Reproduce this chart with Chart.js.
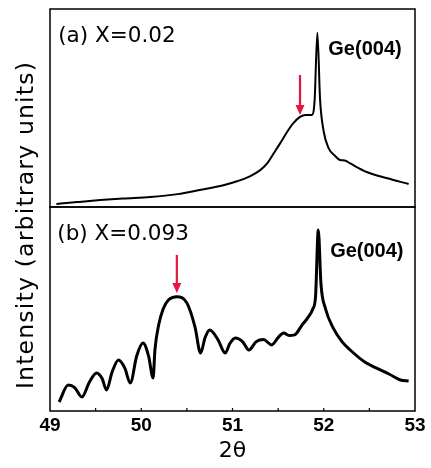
<!DOCTYPE html>
<html lang="en">
<head>
  <meta charset="UTF-8">
  <title>XRD Ge(004)</title>
  <script src="https://cdn.jsdelivr.net/npm/chart.js"></script>
  <style>
    html, body { margin: 0; padding: 0; background: #ffffff; }
    #wrap { width: 431px; height: 468px; position: relative; }
  </style>
</head>
<body>

<div id="wrap">
  <canvas id="xrd" width="431" height="468"></canvas>
</div>

<script>
// panel (a) X=0.02
const angleA = [49.07, 49.3, 49.55, 49.8, 50.1, 50.4, 50.64, 50.9, 51.05, 51.19, 51.3, 51.38, 51.45, 51.52, 51.6, 51.66, 51.74, 51.8, 51.87, 51.9, 51.93, 51.96, 52.0, 52.05, 52.12, 52.18, 52.23, 52.29, 52.47, 52.7, 52.93];
const intensityA = [1.5, 2.5, 3.5, 4.3, 5, 6.5, 8.6, 11, 13, 15.5, 18.5, 22, 27, 32, 38, 42, 45.5, 46.5, 46.5, 54, 88, 54, 38, 30, 26, 23.7, 23.5, 22, 17.7, 14.5, 11.6];

// panel (b) X=0.093
const angleB = [49.10, 49.20, 49.27, 49.35, 49.43, 49.51, 49.57, 49.62, 49.68, 49.75, 49.82, 49.88, 49.95, 50.02, 50.08, 50.13, 50.15, 50.19, 50.24, 50.30, 50.39, 50.50, 50.59, 50.65, 50.70, 50.75, 50.84, 50.92, 50.97, 51.03, 51.11, 51.18, 51.26, 51.34, 51.43, 51.50, 51.56, 51.62, 51.68, 51.76, 51.83, 51.88, 51.91, 51.94, 51.97, 52.02, 52.10, 52.20, 52.29, 52.45, 52.58, 52.72, 52.84, 52.93];
const intensityB = [4.4, 12.7, 11.5, 6.9, 14, 18.6, 16, 10.3, 19, 25, 21, 13.7, 27, 33.3, 27, 16.2, 30, 42, 50, 54.5, 56, 53, 41, 28.4, 36, 39.7, 35, 28.4, 33, 35.8, 34, 29.9, 34, 35, 32.4, 36, 38.2, 37, 37.3, 42, 46, 50, 56, 88.7, 62, 50, 41, 34, 29.9, 24, 21, 18, 15.2, 14.7];

const xTicks = [49, 50, 51, 52, 53];

function toPoints(xs, ys) {
  return xs.map((x, i) => ({ x: x, y: ys[i] }));
}

// frame, inward ticks, panel labels and arrows
const panelDecor = {
  id: 'panelDecor',
  afterDatasetsDraw(chart) {
    const ctx = chart.ctx;
    const area = chart.chartArea;
    const sx = chart.scales.x;
    const ya = chart.scales.yA;
    const yb = chart.scales.yB;

    ctx.save();
    ctx.strokeStyle = '#000';
    ctx.lineWidth = 1.5;
    ctx.strokeRect(area.left, ya.top, area.right - area.left, ya.bottom - ya.top);
    ctx.strokeRect(area.left, yb.top, area.right - area.left, yb.bottom - yb.top);

    // small ticks pointing inward on the bottom axis
    ctx.lineWidth = 1.2;
    for (let v = 49.5; v < 53; v += 0.5) {
      const px = sx.getPixelForValue(v);
      ctx.beginPath();
      ctx.moveTo(px, yb.bottom);
      ctx.lineTo(px, yb.bottom - 3);
      ctx.stroke();
    }

    // texts
    ctx.fillStyle = '#000';
    ctx.textBaseline = 'middle';
    ctx.textAlign = 'left';
    ctx.font = '21.5px "DejaVu Sans"';
    ctx.fillText('(a) X=0.02', sx.getPixelForValue(49.09), ya.getPixelForValue(86.4));
    ctx.fillText('(b) X=0.093', sx.getPixelForValue(49.08), yb.getPixelForValue(86.8));
    ctx.font = 'bold 20px "Liberation Sans"';
    ctx.fillText('Ge(004)', sx.getPixelForValue(52.05), ya.getPixelForValue(79.5));
    ctx.fillText('Ge(004)', sx.getPixelForValue(52.07), yb.getPixelForValue(78.4));

    // red arrows
    drawArrow(ctx, sx.getPixelForValue(51.74), ya.getPixelForValue(66.7), ya.getPixelForValue(46.5));
    drawArrow(ctx, sx.getPixelForValue(50.39), yb.getPixelForValue(76.5), yb.getPixelForValue(57.8));

    // y title across both panels
    ctx.translate(27, 225);
    ctx.rotate(-Math.PI / 2);
    ctx.textAlign = 'center';
    ctx.font = '23.5px "DejaVu Sans"';
    ctx.letterSpacing = '1.2px';
    ctx.fillText('Intensity (arbitrary units)', 0, 0);
    ctx.restore();
  }
};

function drawArrow(ctx, x, y0, y1) {
  ctx.save();
  ctx.strokeStyle = '#e3173e';
  ctx.fillStyle = '#e3173e';
  ctx.lineWidth = 2.2;
  ctx.beginPath();
  ctx.moveTo(x, y0);
  ctx.lineTo(x, y1 - 8);
  ctx.stroke();
  ctx.beginPath();
  ctx.moveTo(x - 4.5, y1 - 10);
  ctx.lineTo(x + 4.5, y1 - 10);
  ctx.lineTo(x, y1);
  ctx.closePath();
  ctx.fill();
  ctx.restore();
}

const hiddenY = {
  type: 'linear',
  min: 0,
  max: 100,
  stack: 'panels',
  position: 'left',
  ticks: { display: false },
  grid: { display: false },
  border: { display: false },
  afterFit(scale) { scale.width = 0; }
};

new Chart(document.getElementById('xrd'), {
  type: 'line',
  data: {
    datasets: [
      {
        label: 'X=0.02',
        data: toPoints(angleA, intensityA),
        yAxisID: 'yA',
        borderColor: '#000',
        borderWidth: 2,
        pointRadius: 0,
        cubicInterpolationMode: 'monotone'
      },
      {
        label: 'X=0.093',
        data: toPoints(angleB, intensityB),
        yAxisID: 'yB',
        borderColor: '#000',
        borderWidth: 3,
        pointRadius: 0,
        cubicInterpolationMode: 'monotone'
      }
    ]
  },
  options: {
    responsive: false,
    animation: false,
    maintainAspectRatio: false,
    layout: { padding: { left: 50, right: 16, top: 9, bottom: 0 } },
    plugins: {
      legend: { display: false },
      tooltip: { enabled: false }
    },
    scales: {
      x: {
        type: 'linear',
        min: 49,
        max: 53,
        afterBuildTicks(scale) { scale.ticks = xTicks.map(v => ({ value: v })); },
        ticks: {
          color: '#000',
          padding: -5,
          font: { family: 'Liberation Sans', size: 19, weight: 'bold' }
        },
        grid: { display: false },
        border: { display: false },
        title: {
          display: true,
          text: '2θ',
          color: '#000',
          padding: { top: 0, bottom: 4 },
          font: { family: 'DejaVu Sans', size: 22 }
        },
        afterFit(scale) { scale.height = 57; }
      },
      // stacked scales are placed bottom first
      yB: Object.assign({}, hiddenY, { stackWeight: 204 }),
      yA: Object.assign({}, hiddenY, { stackWeight: 198 })
    }
  },
  plugins: [panelDecor]
});
</script>

</body>
</html>
